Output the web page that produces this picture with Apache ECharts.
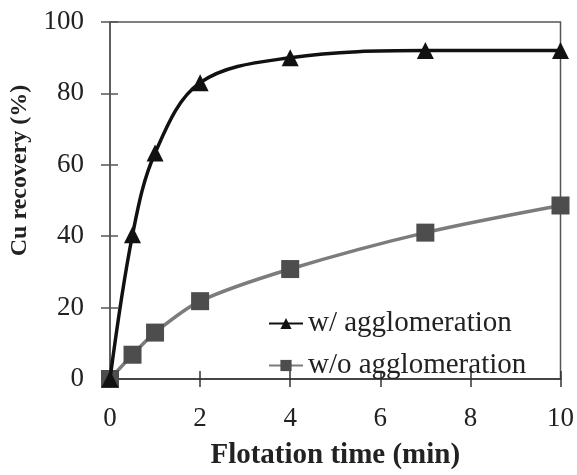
<!DOCTYPE html>
<html>
<head>
<meta charset="utf-8">
<script src="https://cdn.jsdelivr.net/npm/echarts@6/dist/echarts.min.js"></script>
<style>
  html, body { margin: 0; padding: 0; background: #fff; }
  #chart { width: 577px; height: 475px; }
</style>
</head>
<body>
<div id="chart"></div>
<script>
// flotation time (min)
var time_min = [0, 0.5, 1, 2, 4, 7, 10];
// Cu recovery (%)
var with_agglo = [0, 40.4, 63.3, 83, 90, 92, 92];
var without_agglo = [0, 6.8, 13, 21.8, 30.8, 41, 48.6];

var xTicks = [0, 2, 4, 6, 8, 10];
var yTicks = [0, 20, 40, 60, 80, 100];

function pairs(xs, ys) {
	var out = [];
	for (var i = 0; i < xs.length; i++) {
		out.push([xs[i], ys[i]]);
	}
	return out;
}

var font = 'Liberation Serif';
var axisColor = '#555';

var chart = echarts.init(document.getElementById('chart'));
var option = {
	animation: false,
	grid: {
		left: 110, right: 15, top: 22, bottom: 89,
		show: true, borderColor: axisColor, borderWidth: 1.5
	},
	legend: {
		orient: 'vertical',
		left: 263, top: 304,
		itemWidth: 34, itemHeight: 14, itemGap: 13,
		textStyle: {fontFamily: font, fontSize: 29, color: '#222'},
		data: ['w/ agglomeration', 'w/o agglomeration']
	},
	xAxis: [
		{
			type: 'value', min: 0, max: 10, interval: 2,
			name: 'Flotation time (min)', nameLocation: 'middle', nameGap: 62,
			nameTextStyle: {fontFamily: font, fontSize: 29, fontWeight: 'bold', color: '#222'},
			axisLine: {lineStyle: {color: '#333', width: 1.5}},
			axisTick: {length: 8, lineStyle: {color: '#333', width: 1.5}},
			axisLabel: {fontFamily: font, fontSize: 27, color: '#222', margin: 26,
				formatter: function (v) { return xTicks.indexOf(v) >= 0 ? v : ''; }},
			splitLine: {show: false}
		},
		{
			type: 'value', min: 0, max: 10, interval: 2, position: 'bottom',
			axisLine: {show: false},
			axisTick: {inside: true, length: 8, lineStyle: {color: '#333', width: 1.5}},
			axisLabel: {show: false},
			splitLine: {show: false}
		}
	],
	yAxis: [
		{
			type: 'value', min: 0, max: 100, interval: 20,
			name: 'Cu recovery (%)', nameLocation: 'middle', nameGap: 78,
			nameTextStyle: {fontFamily: font, fontSize: 24, fontWeight: 'bold', color: '#222',
				padding: [0, 0, 0, 60]},
			axisLine: {show: true, lineStyle: {color: axisColor, width: 1.5}},
			axisTick: {show: true, length: 9, lineStyle: {color: axisColor, width: 1.5}},
			axisLabel: {fontFamily: font, fontSize: 27, color: '#222', margin: 26,
				formatter: function (v) { return yTicks.indexOf(v) >= 0 ? v : ''; }},
			splitLine: {show: false}
		},
		{
			type: 'value', min: 0, max: 100, interval: 20, position: 'left',
			axisLine: {show: false},
			axisTick: {show: true, inside: true, length: 8, lineStyle: {color: axisColor, width: 1.5}},
			axisLabel: {show: false},
			splitLine: {show: false}
		}
	],
	series: [
		{
			name: 'w/ agglomeration',
			type: 'line',
			smooth: 0.35,
			symbol: 'triangle',
			symbolSize: 17,
			lineStyle: {color: '#111', width: 3.5},
			itemStyle: {color: '#111'},
			data: pairs(time_min, with_agglo),
			z: 3
		},
		{
			name: 'w/o agglomeration',
			type: 'line',
			smooth: 0.3,
			symbol: 'rect',
			symbolSize: 18,
			lineStyle: {color: '#7c7c7c', width: 3.5},
			itemStyle: {color: '#4d4d4d'},
			data: pairs(time_min, without_agglo),
			z: 2
		}
	]
};
chart.setOption(option);
</script>
</body>
</html>
